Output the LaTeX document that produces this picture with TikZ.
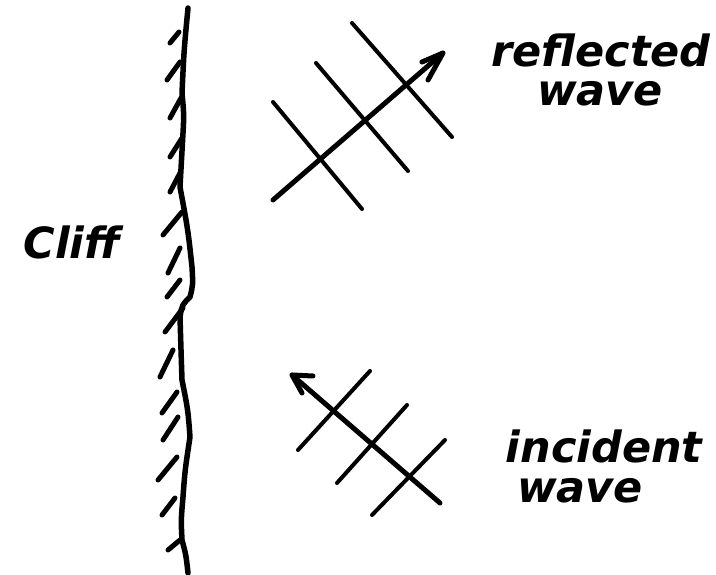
\documentclass[tikz,border=0pt]{standalone}
\usepackage{fontspec}
\setmainfont{DejaVu Sans}
\tikzset{
  cliffline/.style={line width=5.5pt, line cap=round, line join=round},
  hatch/.style={line width=5pt, line cap=round},
  wavefront/.style={line width=4pt, line cap=round},
  ray/.style={line width=5pt, line cap=round, line join=round},
  lbl/.style={font=\fontsize{43}{48}\selectfont\bfseries\itshape, inner sep=0pt}
}
\begin{document}
\begin{tikzpicture}[x=1pt,y=-1pt]
\useasboundingbox (0,0) rectangle (716,575);
% cliff
\draw[cliffline] (188,8) .. controls (184,50) .. (182,93) .. controls (184,115) .. (183,133)
  .. controls (181,160) .. (180,187) .. controls (188,230) .. (192,267) .. controls (193,285) .. (190,297)
  .. controls (182,305) .. (180,317) .. controls (181,350) .. (182,380) .. controls (188,410) .. (190,437)
  .. controls (185,470) .. (183,497) .. controls (181,520) .. (182,540) .. controls (186,555) .. (188,573);
\foreach \a/\b/\c/\d in {170/43/179/32, 167/80/180/62, 170/118/181/98, 170/157/182/138,
  170/192/180/173, 163/235/182/212, 168/273/180/248, 167/297/180/280, 165/332/183/308,
  160/377/173/350, 162/413/177/392, 163/440/178/417, 158/480/177/457, 162/515/175/498,
  168/550/180/540}
  \draw[hatch] (\a,\b) -- (\c,\d);
% reflected wave
\coordinate (rs) at (273,200);
\coordinate (rt) at (443,53);
\draw[wavefront] (273,102) -- (362,209);
\draw[wavefront] (316,63) -- (408,171);
\draw[wavefront] (352,23) -- (452,137);
\draw[ray] (rs) -- (rt);
\draw[ray] (422,62) -- (rt) -- (428,80);
% incident wave
\coordinate (is) at (440,503);
\coordinate (it) at (292,375);
\draw[wavefront] (370,371) -- (298,450);
\draw[wavefront] (407,405) -- (337,483);
\draw[wavefront] (445,440) -- (372,515);
\draw[ray] (is) -- (it);
\draw[ray] (313,376) -- (it) -- (302,393);
% labels
\node[lbl, anchor=base] (cliff) at (72,259) {Cliff};
\node[lbl, anchor=base] (refl1) at (601,67) {reflected};
\node[lbl, anchor=base] (refl2) at (600,106) {wave};
\node[lbl, anchor=base] (inc1) at (604,462) {incident};
\node[lbl, anchor=base] (inc2) at (580,502) {wave};
\end{tikzpicture}
\end{document}
